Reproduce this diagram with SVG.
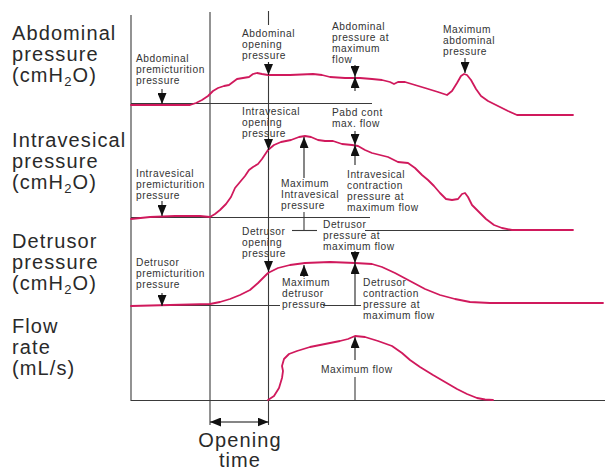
<svg xmlns="http://www.w3.org/2000/svg" width="605" height="470" viewBox="0 0 605 470">
<style>
.big{font-family:"Liberation Sans",Arial,sans-serif;font-size:20px;letter-spacing:1.1px;fill:#2a2a2a}
.sm{font-family:"Liberation Sans",Arial,sans-serif;font-size:10.2px;letter-spacing:0.55px;fill:#333}
.ln{stroke:#3a3a3a;stroke-width:1.1;fill:none}
.ar{stroke:#222;stroke-width:1.1;fill:none;marker-end:url(#ah)}
.cv{stroke:#d0195c;stroke-width:1.8;fill:none;stroke-linejoin:round;stroke-linecap:round}
</style>
<defs>
<marker id="ah" markerUnits="userSpaceOnUse" markerWidth="11" markerHeight="9" refX="11" refY="4.5" orient="auto">
<path d="M0,0 L11,4.5 L0,9 z" fill="#111"/>
</marker>
</defs>
<rect width="605" height="470" fill="#fff"/>

<g id="axis-labels">
<text class="big" x="12" y="40">Abdominal</text>
<text class="big" x="12" y="61">pressure</text>
<text class="big" x="12" y="82">(cmH<tspan font-size="13" dy="4">2</tspan><tspan dy="-4">O)</tspan></text>
<text class="big" x="12" y="147">Intravesical</text>
<text class="big" x="12" y="168">pressure</text>
<text class="big" x="12" y="189">(cmH<tspan font-size="13" dy="4">2</tspan><tspan dy="-4">O)</tspan></text>
<text class="big" x="12" y="248">Detrusor</text>
<text class="big" x="12" y="269">pressure</text>
<text class="big" x="12" y="290">(cmH<tspan font-size="13" dy="4">2</tspan><tspan dy="-4">O)</tspan></text>
<text class="big" x="12" y="333">Flow</text>
<text class="big" x="12" y="354">rate</text>
<text class="big" x="12" y="375">(mL/s)</text>
</g>

<g id="frame">
<line class="ln" x1="131" y1="15" x2="131" y2="401"/>
<line class="ln" x1="131" y1="400.5" x2="605" y2="400.5" stroke="#777"/>
<line class="ln" x1="210" y1="12" x2="210" y2="425"/>
<line class="ln" x1="268.5" y1="11" x2="268.5" y2="25"/>
<line class="ln" x1="268.5" y1="62" x2="268.5" y2="425"/>
<line class="ln" x1="131" y1="103.5" x2="372" y2="103.5"/>
<line class="ln" x1="131" y1="217.5" x2="370" y2="217.5"/>
<line class="ln" x1="292" y1="230.5" x2="317" y2="230.5"/>
<line class="ln" x1="365" y1="230.5" x2="573" y2="230.5"/>
<line class="ln" x1="131" y1="305.5" x2="280" y2="305.5"/>
<line class="ln" x1="323" y1="305.5" x2="361" y2="305.5"/>
</g>

<g id="curves">
<path id="abdominal-curve" class="cv" d="M131,105 L190,105 L196,103 L202,100 L208,96 L213,91 L218,88 L224,86 L229,85 L233,82 L237,79 L243,78 L249,77 L253,74 L257,73 L262,74 L268,75 L290,75 L313,74 L322,75 L330,77 L345,78 L360,78 L372,79 L382,80 L390,82 L394,84 L398,82 L405,82 L415,85 L425,88 L438,92 L447,95 L452,91 L457,83 L461,76 L464,74 L467,75 L471,80 L476,89 L481,96 L488,101 L498,106 L508,111 L517,115 L573,115"/>
<path id="intravesical-curve" class="cv" d="M131,219 L150,217 L175,216 L200,216 L210,217 L215,214 L220,210 L226,204 L231,197 L235,188 L240,182 L245,176 L249,170 L253,167 L258,164 L262,159 L268,150 L274,145 L281,142 L291,140 L299,137 L305,136 L311,137 L318,140 L325,141 L333,141 L342,144 L352,145 L358,146 L365,150 L372,153 L380,155 L388,157 L398,162 L408,163 L415,168 L422,175 L428,180 L434,186 L440,193 L446,199 L452,200 L458,199 L462,194 L465,193 L468,197 L472,205 L478,211 L486,219 L494,225 L502,228 L512,230 L573,230"/>
<path id="detrusor-curve" class="cv" d="M131,306 L170,305 L210,304 L220,302 L230,299 L240,295 L250,290 L258,283 L268,273 L278,268 L290,265 L305,263 L330,262 L355,263 L372,264 L382,267 L395,273 L410,281 L425,289 L440,295 L455,299 L470,302 L490,303 L603,303"/>
<path id="flow-curve" class="cv" d="M268,400 L274,396 L279,388 L282,378 L283,371 L282,366 L284,359 L289,354 L297,351 L310,347 L325,344 L340,341 L348,339 L355,336 L365,337 L378,341 L392,346 L402,353 L410,360 L420,367 L433,375 L445,382 L457,389 L467,394 L477,398 L485,399.5 L493,400"/>
</g>

<g id="connectors">
<line class="ar" x1="162" y1="89" x2="162" y2="104"/>
<line class="ar" x1="268.5" y1="62" x2="268.5" y2="75"/>
<line class="ar" x1="355" y1="65" x2="355" y2="77"/>
<line class="ar" x1="355" y1="91" x2="355" y2="77"/>
<line class="ar" x1="465" y1="58" x2="465" y2="73"/>
<line class="ar" x1="268.5" y1="138" x2="268.5" y2="150"/>
<line class="ar" x1="355" y1="131" x2="355" y2="145"/>
<line class="ar" x1="355" y1="165" x2="355" y2="145"/>
<line class="ar" x1="304" y1="178" x2="304" y2="137"/>
<line class="ln" x1="304" y1="212" x2="304" y2="230.5"/>
<line class="ar" x1="162" y1="201" x2="162" y2="216"/>
<line class="ar" x1="268.5" y1="259" x2="268.5" y2="272"/>
<line class="ar" x1="162" y1="293" x2="162" y2="306"/>
<line class="ar" x1="304" y1="277" x2="304" y2="265"/>
<line class="ar" x1="355" y1="251" x2="355" y2="263"/>
<line class="ar" x1="355" y1="305.5" x2="355" y2="263"/>
<line class="ar" x1="355" y1="360" x2="355" y2="337"/>
<line class="ln" x1="355" y1="377" x2="355" y2="400"/>
<line class="ar" x1="239" y1="422" x2="268.5" y2="422"/>
<line class="ar" x1="239" y1="422" x2="210" y2="422"/>
</g>

<g id="annotations">
<text class="sm" x="242" y="37">Abdominal</text>
<text class="sm" x="242" y="48">opening</text>
<text class="sm" x="242" y="59">pressure</text>
<text class="sm" x="136" y="62">Abdominal</text>
<text class="sm" x="136" y="73">premicturition</text>
<text class="sm" x="136" y="84">pressure</text>
<text class="sm" x="332" y="30">Abdominal</text>
<text class="sm" x="332" y="41">pressure at</text>
<text class="sm" x="332" y="52">maximum</text>
<text class="sm" x="332" y="63">flow</text>
<text class="sm" x="443" y="33">Maximum</text>
<text class="sm" x="443" y="44">abdominal</text>
<text class="sm" x="443" y="55">pressure</text>
<text class="sm" x="242" y="115">Intravesical</text>
<text class="sm" x="242" y="126">opening</text>
<text class="sm" x="242" y="137">pressure</text>
<text class="sm" x="332" y="116">Pabd cont</text>
<text class="sm" x="332" y="127">max. flow</text>
<text class="sm" x="136" y="177">Intravesical</text>
<text class="sm" x="136" y="188">premicturition</text>
<text class="sm" x="136" y="199">pressure</text>
<text class="sm" x="281" y="187">Maximum</text>
<text class="sm" x="281" y="198">Intravesical</text>
<text class="sm" x="281" y="209">pressure</text>
<text class="sm" x="347" y="178">Intravesical</text>
<text class="sm" x="347" y="189">contraction</text>
<text class="sm" x="347" y="200">pressure at</text>
<text class="sm" x="347" y="211">maximum flow</text>
<text class="sm" x="323" y="228">Detrusor</text>
<text class="sm" x="323" y="239">pressure at</text>
<text class="sm" x="323" y="250">maximum flow</text>
<text class="sm" x="242" y="235">Detrusor</text>
<text class="sm" x="242" y="246">opening</text>
<text class="sm" x="242" y="257">pressure</text>
<text class="sm" x="136" y="266">Detrusor</text>
<text class="sm" x="136" y="277">premicturition</text>
<text class="sm" x="136" y="288">pressure</text>
<text class="sm" x="282" y="286">Maximum</text>
<text class="sm" x="282" y="297">detrusor</text>
<text class="sm" x="282" y="308">pressure</text>
<text class="sm" x="363" y="286">Detrusor</text>
<text class="sm" x="363" y="297">contraction</text>
<text class="sm" x="363" y="308">pressure at</text>
<text class="sm" x="363" y="319">maximum flow</text>
<text class="sm" x="321" y="373">Maximum flow</text>
<text class="big" x="240" y="447" text-anchor="middle">Opening</text>
<text class="big" x="240" y="467" text-anchor="middle">time</text>
</g>
</svg>
